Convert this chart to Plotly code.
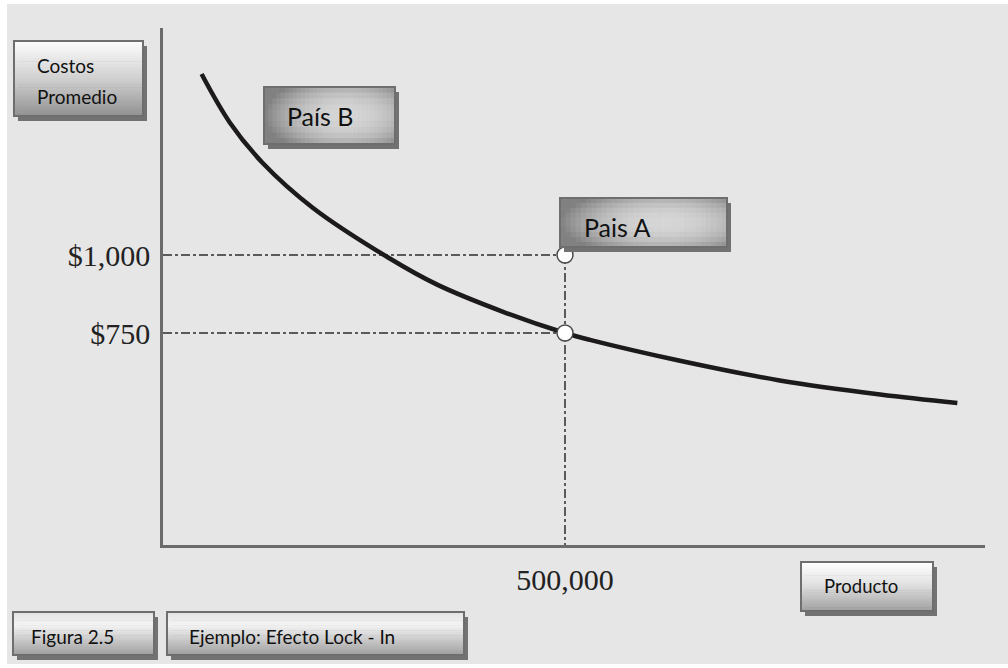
import plotly.graph_objects as go

# Average cost curve (units of product vs. average cost in $)
curve_x = [48000, 83000, 124000, 187000, 280000, 341000, 423000, 500000,
           531000, 643000, 767000, 892000, 988000]
curve_y = [1580, 1425, 1295, 1150, 992, 905, 818, 750,
           728, 661, 598, 553, 526]

# Marked cost levels at the reference output
point_x = [500000, 500000]
point_y = [1000, 750]

y_tick_vals = [750, 1000]
y_tick_text = ["$750", "$1,000"]
x_tick_vals = [500000]
x_tick_text = ["500,000"]

X_RANGE = [0, 1022400]
Y_RANGE = [70.5, 1727.6]

# plot-area frame in page pixels
W, H = 1008, 668
L, R, T, B = 163, 985, 28, 545
BG = "#e6e6e6"


def px(x):
    return (x - L) / (R - L)


def py(y):
    return (B - y) / (B - T)


def gray(v):
    v = max(0, min(255, int(round(v))))
    return "rgb(%d,%d,%d)" % (v, v, v)


def interp(stops, t):
    for (t0, c0), (t1, c1) in zip(stops, stops[1:]):
        if t0 <= t <= t1:
            f = (t - t0) / (t1 - t0) if t1 > t0 else 0
            return c0 + (c1 - c0) * f
    return stops[-1][1]


shapes = []


def rect(x0, y0, x1, y1, fill, line=None, lw=0):
    shapes.append(dict(type="rect", xref="paper", yref="paper",
                       x0=px(x0), x1=px(x1), y0=py(y1), y1=py(y0),
                       fillcolor=fill, layer="above",
                       line=dict(width=lw, color=line or fill)))


def outline(x0, y0, x1, y1):
    shapes.append(dict(type="rect", xref="paper", yref="paper",
                       x0=px(x0), x1=px(x1), y0=py(y1), y1=py(y0),
                       fillcolor="rgba(0,0,0,0)", layer="above",
                       line=dict(width=2, color="#6e6e6e")))


def vgrad_box(x0, y0, x1, y1, stops, n=26):
    rect(x0 + 4, y0 + 5, x1 + 4, y1 + 5, "#727272")
    h = (y1 - y0) / n
    for i in range(n):
        t = (i + 0.5) / n
        rect(x0, y0 + i * h, x1, y0 + (i + 1) * h + 0.6, gray(interp(stops, t)))
    outline(x0, y0, x1, y1)


def radial_box(x0, y0, x1, y1, cu=0.62, cv=0.5, nx=32, ny=10):
    rect(x0 + 4, y0 + 5, x1 + 4, y1 + 5, "#727272")
    w = (x1 - x0) / nx
    h = (y1 - y0) / ny
    for j in range(ny):
        for i in range(nx):
            u = (i + 0.5) / nx
            v = (j + 0.5) / ny
            du = (u - cu) / (cu if u < cu else (1 - cu) * 1.6)
            dv = (v - cv) / 0.7
            d = min(1.0, (du * du + dv * dv) ** 0.5)
            c = 214 - 85 * d ** 2.2
            rect(x0 + i * w, y0 + j * h, x0 + (i + 1) * w + 0.6,
                 y0 + (j + 1) * h + 0.6, gray(c))
    outline(x0, y0, x1, y1)


# page background with a thin white frame
shapes.append(dict(type="rect", xref="paper", yref="paper", layer="below",
                   x0=px(7), x1=px(W), y0=py(664), y1=py(4),
                   fillcolor=BG, line=dict(width=0)))

# label boxes
vgrad_box(14, 41, 143, 116, [(0, 253), (0.5, 208), (1, 146)])
radial_box(264, 87, 395, 144)
radial_box(560, 198, 727, 247)
vgrad_box(801, 562, 933, 611, [(0, 255), (0.45, 226), (1, 160)])
vgrad_box(13, 612, 154, 655, [(0, 226), (0.3, 244), (1, 158)])
vgrad_box(167, 612, 464, 655, [(0, 226), (0.3, 244), (1, 158)])

SANS = "Lato, Carlito, 'Open Sans', sans-serif"


def label(text, x, y, size):
    return dict(text=text, xref="paper", yref="paper", x=px(x), y=py(y),
                xanchor="left", yanchor="middle", showarrow=False,
                font=dict(family=SANS, size=size, color="#111111"))


annotations = [
    label("Costos", 35, 66, 19),
    label("Promedio", 35, 97, 19),
    label("País B", 285, 116, 25),
    label("Pais A", 582, 227, 25),
    label("Producto", 822, 586, 18.5),
    label("Figura 2.5", 29, 636, 19),
    label("Ejemplo: Efecto Lock - In", 187, 636, 19),
]

fig = go.Figure()

# guide lines from the axes to the marked levels
guide = dict(color="#5a5a5a", width=2, dash="dashdot")
for yv in point_y:
    fig.add_trace(go.Scatter(x=[X_RANGE[0], point_x[0]], y=[yv, yv],
                             mode="lines", line=guide, hoverinfo="skip"))
fig.add_trace(go.Scatter(x=[point_x[0], point_x[0]], y=[max(point_y), Y_RANGE[0]],
                         mode="lines", line=guide, hoverinfo="skip"))

fig.add_trace(go.Scatter(x=curve_x, y=curve_y, mode="lines",
                         line=dict(color="#1c1a1a", width=4.5, shape="spline",
                                   smoothing=1.0)))

fig.add_trace(go.Scatter(x=point_x, y=point_y, mode="markers",
                         marker=dict(size=16, color="white",
                                     line=dict(color="#4a4a4a", width=1.5))))

tick_font = dict(family="'Liberation Serif', serif", size=30, color="#222222")

fig.update_layout(
    width=W, height=H, autosize=False,
    margin=dict(l=L, r=W - R, t=T, b=H - B, pad=0),
    paper_bgcolor="white", plot_bgcolor="rgba(0,0,0,0)",
    showlegend=False,
    shapes=shapes, annotations=annotations,
    xaxis=dict(range=X_RANGE, showgrid=False, zeroline=False,
               showline=True, linecolor="#6b6b6b", linewidth=2.5,
               tickvals=x_tick_vals, ticktext=x_tick_text, ticks="",
               ticklabelstandoff=6, tickfont=tick_font),
    yaxis=dict(range=Y_RANGE, showgrid=False, zeroline=False,
               showline=True, linecolor="#6b6b6b", linewidth=2.5,
               tickvals=y_tick_vals, ticktext=y_tick_text, ticks="",
               ticklabelstandoff=4, tickfont=tick_font),
)

fig.write_html("out.html", config=dict(displayModeBar=False))
